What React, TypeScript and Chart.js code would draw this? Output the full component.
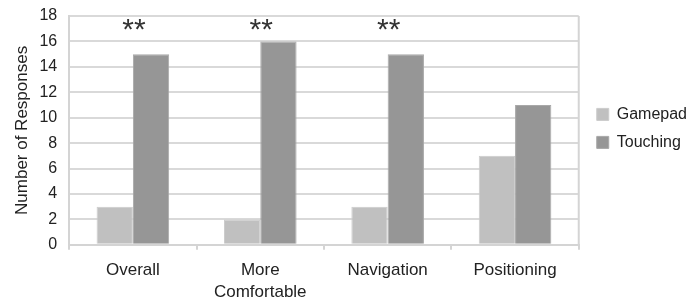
import React, { useEffect, useRef } from "react";
import { Chart, registerables } from "chart.js";

Chart.register(...registerables);

const categories: (string | string[])[] = ["Overall", ["More", "Comfortable"], "Navigation", "Positioning"];
const gamepadValues = [3, 2, 3, 7];
const touchingValues = [15, 16, 15, 11];
const significance = ["**", "**", "**", ""];
const yTicks = [0, 2, 4, 6, 8, 10, 12, 14, 16, 18];

const FONT = "'Liberation Sans', Arial, sans-serif";

const extras = {
  id: "extras",
  afterLayout(chart: any) {
    const lg = chart.legend;
    const area = chart.chartArea;
    if (lg) {
      const shiftX = area.right + 18 - (lg.left + lg.options.labels.padding);
      lg.left += shiftX;
      lg.right += shiftX;
      const shiftY = (area.top + area.bottom) / 2 - 2 - (lg.top + lg.bottom) / 2;
      lg.top += shiftY;
      lg.bottom += shiftY;
    }
  },
  afterDatasetsDraw(chart: any) {
    const ctx = chart.ctx;
    const area = chart.chartArea;
    ctx.save();
    ctx.strokeStyle = "#d4d4d4";
    ctx.lineWidth = 2;
    ctx.beginPath();
    ctx.moveTo(area.right, area.top);
    ctx.lineTo(area.right, area.bottom);
    ctx.stroke();
    ctx.fillStyle = "#333333";
    ctx.font = `30px ${FONT}`;
    ctx.textAlign = "center";
    ctx.textBaseline = "middle";
    significance.forEach((s, i) => {
      if (s) {
        ctx.fillText(s, chart.scales.x.getPixelForValue(i) + 1, chart.scales.y.getPixelForValue(17) + 2);
      }
    });
    ctx.restore();
  },
};

export default function App() {
  const ref = useRef<HTMLCanvasElement | null>(null);
  useEffect(() => {
    if (!ref.current) return;
    const chart = new Chart(ref.current, {
      type: "bar",
      data: {
        labels: categories,
        datasets: [
          {
            label: "Gamepad",
            data: gamepadValues,
            backgroundColor: "#c0c0c0",
            borderColor: "#cccccc",
            borderWidth: 1,
          },
          {
            label: "Touching",
            data: touchingValues,
            backgroundColor: "#969696",
            borderColor: "#a8a8a8",
            borderWidth: 1,
          },
        ],
      },
      options: {
        animation: false,
        responsive: false,
        maintainAspectRatio: false,
        layout: { padding: { top: 0, right: 0, bottom: -10, left: 12 } },
        datasets: { bar: { categoryPercentage: 0.57, barPercentage: 1.0 } },
        plugins: {
          legend: {
            position: "right",
            labels: {
              boxWidth: 12,
              boxHeight: 12,
              color: "#222222",
              font: { family: FONT, size: 16 },
              padding: 12,
            },
          },
          tooltip: { enabled: false },
        },
        scales: {
          x: {
            grid: {
              display: true,
              offset: true,
              drawOnChartArea: false,
              drawTicks: true,
              tickLength: 5,
              color: "#d4d4d4",
              lineWidth: 2,
            },
            border: { display: true, color: "#d4d4d4", width: 2 },
            ticks: {
              color: "#222222",
              font: { family: FONT, size: 17, lineHeight: 1.3 },
              maxRotation: 0,
              autoSkip: false,
              padding: 9,
            },
          },
          y: {
            min: 0,
            max: 18,
            afterBuildTicks: (axis: any) => {
              axis.ticks = yTicks.map((v) => ({ value: v }));
            },
            grid: { color: "#d9d9d9", lineWidth: 2, drawTicks: false },
            border: { display: true, color: "#d4d4d4", width: 2 },
            ticks: {
              color: "#222222",
              font: { family: FONT, size: 16, lineHeight: 0.5 },
              padding: 12,
            },
            title: {
              display: true,
              text: "Number of Responses",
              color: "#222222",
              font: { family: FONT, size: 17 },
              padding: { top: 0, bottom: -5 },
            },
          },
        },
      },
      plugins: [extras],
    });
    return () => chart.destroy();
  }, []);
  return (
    <div style={{ position: "fixed", left: 0, top: 0, width: 691, height: 302, background: "#fff" }}>
      <canvas ref={ref} width={691} height={302} style={{ width: 691, height: 302 }} />
    </div>
  );
}
